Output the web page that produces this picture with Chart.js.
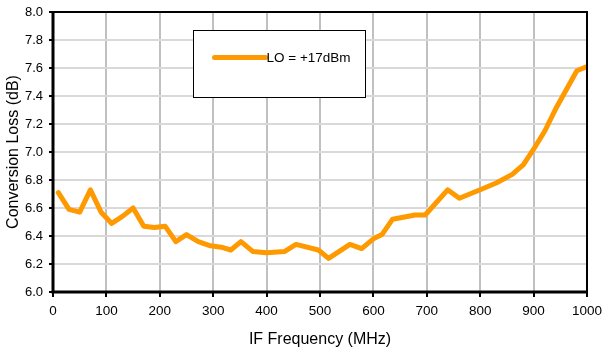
<!DOCTYPE html>
<html>
<head>
<meta charset="utf-8">
<script src="https://cdn.jsdelivr.net/npm/chart.js@4"></script>
<style>
  html, body { margin: 0; padding: 0; background: #fff; }
  #wrap { width: 602px; height: 352px; }
</style>
</head>
<body>
<div id="wrap"><canvas id="myChart" width="602" height="352"></canvas></div>
<script>
// IF frequency (MHz) and conversion loss (dB) at LO = +17dBm
var freq = [10, 30, 50, 70, 90, 110, 130, 150, 170, 190, 210, 230, 250, 272, 295, 315, 333, 352,
            374, 400, 434, 455, 497, 516, 556, 578, 600, 616, 636, 678, 697, 739, 761, 800,
            831, 860, 881, 900, 921, 943, 981, 1000];
var loss = [6.71, 6.59, 6.57, 6.73, 6.57, 6.49, 6.54, 6.60, 6.47, 6.46, 6.47, 6.36, 6.41, 6.36, 6.33, 6.32, 6.30, 6.36,
            6.29, 6.28, 6.29, 6.34, 6.30, 6.24, 6.34, 6.31, 6.38, 6.41, 6.52, 6.55, 6.55, 6.73, 6.67, 6.73,
            6.78, 6.84, 6.91, 7.02, 7.15, 7.32, 7.58, 7.61];
var seriesLabel = 'LO = +17dBm';
var xTicks = [0, 100, 200, 300, 400, 500, 600, 700, 800, 900, 1000];
var yTicks = [6.0, 6.2, 6.4, 6.6, 6.8, 7.0, 7.2, 7.4, 7.6, 7.8, 8.0];

var points = freq.map(function(f, i){ return {x: f, y: loss[i]}; });
var fontFamily = "'Liberation Sans', Arial, sans-serif";

// black frame round the plot area plus the boxed legend
var framePlugin = {
    id: 'frame',
    afterDraw: function(chart){
        var ctx = chart.ctx;
        var a = chart.chartArea;
        ctx.save();
        ctx.strokeStyle = '#000';
        ctx.lineWidth = 2;
        ctx.strokeRect(a.left, a.top, a.right - a.left, a.bottom - a.top);
        ctx.lineWidth = 3;
        ctx.beginPath();
        ctx.moveTo(a.left, a.top - 1);
        ctx.lineTo(a.left, a.bottom);
        ctx.lineTo(a.right + 1, a.bottom);
        ctx.stroke();

        // legend box
        var bx = a.left + 140.5, by = a.top + 18.5, bw = 172, bh = 67;
        ctx.fillStyle = '#fff';
        ctx.fillRect(bx, by, bw, bh);
        ctx.lineWidth = 1;
        ctx.strokeRect(bx, by, bw, bh);
        var ds = chart.data.datasets[0];
        ctx.strokeStyle = ds.borderColor;
        ctx.lineWidth = 5;
        ctx.lineCap = 'round';
        ctx.beginPath();
        ctx.moveTo(bx + 21, by + 27);
        ctx.lineTo(bx + 72, by + 27);
        ctx.stroke();
        ctx.fillStyle = '#000';
        ctx.font = '13.5px ' + fontFamily;
        ctx.textBaseline = 'middle';
        ctx.fillText(ds.label, bx + 73, by + 28);
        ctx.restore();
    }
};

var ctx = document.getElementById('myChart').getContext('2d');
var myLineChart = new Chart(ctx, {
    type: 'line',
    data: {
        datasets: [{
            label: seriesLabel,
            data: points,
            borderColor: 'rgb(255, 153, 0)',
            borderWidth: 5,
            pointRadius: 0,
            tension: 0,
            borderJoinStyle: 'round',
            borderCapStyle: 'round'
        }]
    },
    options: {
        responsive: false,
        animation: false,
        layout: { padding: { top: 12, right: 15, left: 0, bottom: 0 } },
        plugins: {
            legend: { display: false },
            tooltip: { enabled: false }
        },
        scales: {
            x: {
                type: 'linear',
                min: 0,
                max: 1000,
                afterBuildTicks: function(s){ s.ticks = xTicks.map(function(v){ return {value: v}; }); },
                afterFit: function(s){ s.height = 60; s.paddingLeft = 0; s.paddingRight = 0; },
                border: { display: false },
                grid: { color: '#c0c0c0', lineWidth: 2, tickColor: '#000', tickLength: 5, tickWidth: 2 },
                ticks: {
                    color: '#000',
                    padding: 6,
                    maxRotation: 0,
                    font: { family: fontFamily, size: 13.5 },
                    callback: function(v){ return String(v); }
                },
                title: {
                    display: true,
                    text: 'IF Frequency (MHz)',
                    color: '#000',
                    padding: { top: 0, bottom: 3 },
                    font: { family: fontFamily, size: 16 }
                }
            },
            y: {
                min: 6.0,
                max: 8.0,
                afterBuildTicks: function(s){ s.ticks = yTicks.map(function(v){ return {value: v}; }); },
                afterFit: function(s){ s.width = 53; s.paddingTop = 0; s.paddingBottom = 0; },
                border: { display: false },
                grid: { color: '#d9d9d9', lineWidth: 2, tickColor: '#000', tickLength: 4, tickWidth: 2 },
                ticks: {
                    color: '#000',
                    padding: 6,
                    font: { family: fontFamily, size: 13 },
                    callback: function(v){ return Number(v).toFixed(1); }
                },
                title: {
                    display: true,
                    text: 'Conversion Loss (dB)',
                    color: '#000',
                    padding: { top: 4, bottom: 7 },
                    font: { family: fontFamily, size: 16 }
                }
            }
        }
    },
    plugins: [framePlugin]
});
</script>
</body>
</html>
